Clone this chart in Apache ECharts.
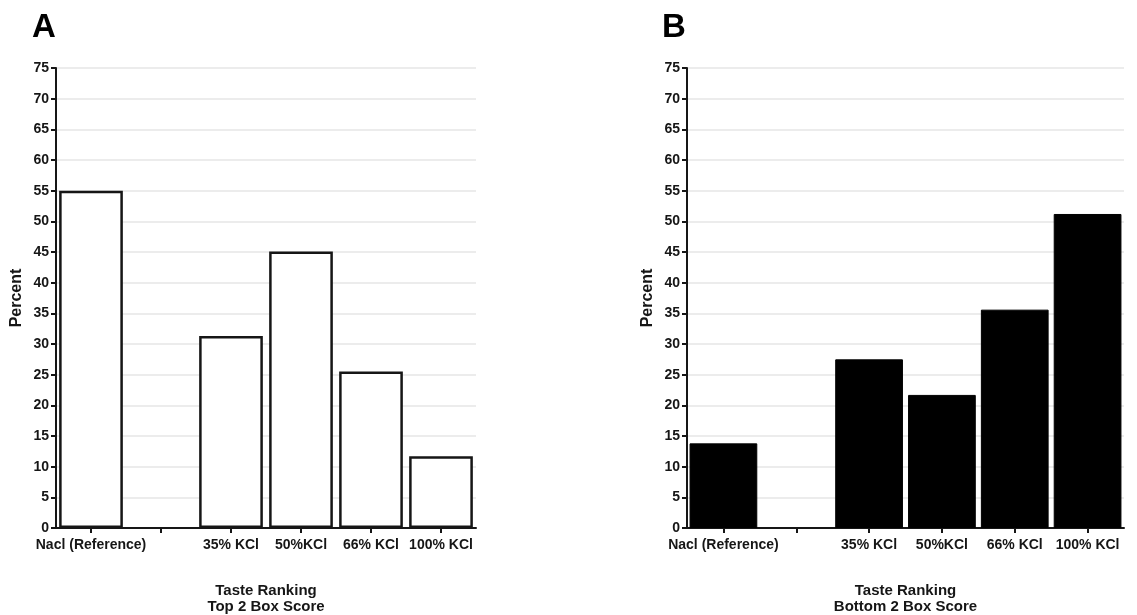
<!DOCTYPE html>
<html>
<head>
<meta charset="utf-8">
<script src="https://cdn.jsdelivr.net/npm/echarts@6/dist/echarts.min.js"></script>
<style>
html,body{margin:0;padding:0;background:#fff;}
#c{width:1137px;height:615px;}
</style>
</head>
<body>
<div id="c"></div>
<script>
var categories = ['Nacl (Reference)', '', '35% KCl', '50%KCl', '66% KCl', '100% KCl'];
var top2Values = [55, null, 31.3, 45.1, 25.5, 11.7];
var bottom2Values = [13.8, null, 27.5, 21.7, 35.6, 51.2];
var yTicks = {min: 0, max: 75, interval: 5};
var xTitleA = 'Taste Ranking\nTop 2 Box Score';
var xTitleB = 'Taste Ranking\nBottom 2 Box Score';
var yTitle = 'Percent';

var FONT = '"Liberation Sans", Arial, sans-serif';
var INK = '#161616';

function xAxis(gridIndex, name) {
  return {
    type: 'category', gridIndex: gridIndex, data: categories,
    boundaryGap: true,
    axisLine: {show: true, lineStyle: {color: INK, width: 2}},
    axisTick: {show: true, alignWithLabel: true, length: 5, lineStyle: {color: INK, width: 2}},
    axisLabel: {color: INK, fontFamily: FONT, fontWeight: 'bold', fontSize: 14, margin: 10, interval: 0},
    name: name, nameLocation: 'middle', nameGap: 55,
    nameTextStyle: {color: INK, fontFamily: FONT, fontWeight: 'bold', fontSize: 15, lineHeight: 16}
  };
}
function yAxis(gridIndex) {
  return {
    type: 'value', gridIndex: gridIndex, min: yTicks.min, max: yTicks.max, interval: yTicks.interval,
    axisLine: {show: true, lineStyle: {color: INK, width: 2}},
    axisTick: {show: true, length: 5, lineStyle: {color: INK, width: 2}},
    axisLabel: {color: INK, fontFamily: FONT, fontWeight: 'bold', fontSize: 14, margin: 7},
    splitLine: {show: true, lineStyle: {color: '#e6e6e6', width: 1.5}},
    name: yTitle, nameLocation: 'middle', nameGap: 31, nameRotate: 90,
    nameTextStyle: {color: INK, fontFamily: FONT, fontWeight: 'bold', fontSize: 16}
  };
}

var chart = echarts.init(document.getElementById('c'), null, {renderer: 'canvas'});
chart.setOption({
  backgroundColor: '#fff',
  animation: false,
  graphic: [
    {type: 'text', left: 32, top: 11, style: {text: 'A', font: 'bold 33px ' + FONT, fill: '#000'}},
    {type: 'text', left: 662, top: 11, style: {text: 'B', font: 'bold 33px ' + FONT, fill: '#000'}}
  ],
  grid: [
    {left: 56, right: 1137 - 476, top: 68, bottom: 615 - 528, containLabel: false, outerBoundsMode: 'none'},
    {left: 687, right: 1137 - 1124, top: 68, bottom: 615 - 528, containLabel: false, outerBoundsMode: 'none'}
  ],
  xAxis: [xAxis(0, xTitleA), xAxis(1, xTitleB)],
  yAxis: [yAxis(0), yAxis(1)],
  series: [
    {type: 'bar', xAxisIndex: 0, yAxisIndex: 0, data: top2Values, barCategoryGap: '9%',
     itemStyle: {color: '#fff', borderColor: INK, borderWidth: 2.5}},
    {type: 'bar', xAxisIndex: 1, yAxisIndex: 1, data: bottom2Values, barCategoryGap: '7%',
     itemStyle: {color: '#000', borderColor: '#000', borderWidth: 1}}
  ]
});
</script>
</body>
</html>
